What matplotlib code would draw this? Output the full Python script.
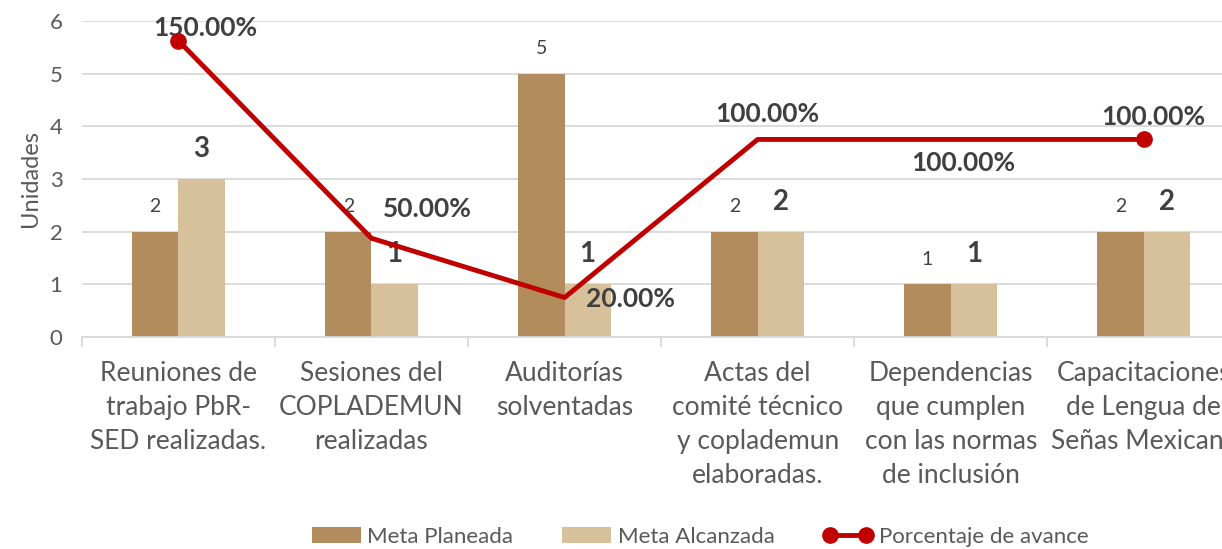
import numpy as np
import matplotlib
matplotlib.use("Agg")
import matplotlib.pyplot as plt
from matplotlib.lines import Line2D
from matplotlib.patches import Patch

plt.rcParams['font.family'] = ['Lato', 'DejaVu Sans']

categories = [
    "Reuniones de\ntrabajo PbR-\nSED realizadas.",
    "Sesiones del\nCOPLADEMUN\nrealizadas",
    "Auditorías\nsolventadas",
    "Actas del\ncomité técnico\ny coplademun\nelaboradas.",
    "Dependencias\nque cumplen\ncon las normas\nde inclusión",
    "Capacitaciones\nde Lengua de\nSeñas Mexicana",
]
meta_planeada = [2, 2, 5, 2, 1, 2]
meta_alcanzada = [3, 1, 1, 2, 1, 2]
porcentaje = [1.5, 0.5, 0.2, 1.0, 1.0, 1.0]
# where to put each percentage label (pixels from the point)
pct_offsets = [(27, 13), (56, 29), (66, -1), (10, 25), (13, -24), (10, 22)]

c_plan = '#B28C5C'
c_alc = '#D6C19B'
c_red = '#C00000'
c_text = '#595959'
c_bold = '#404040'

fig = plt.figure(figsize=(12.22, 5.49), dpi=100)
ax = fig.add_axes([0.067, 0.386, 0.948, 0.576])
x = np.arange(len(categories))
w = 0.24

ax.bar(x - w / 2, meta_planeada, w, color=c_plan, zorder=2)
ax.bar(x + w / 2, meta_alcanzada, w, color=c_alc, zorder=2)

for xi, v in zip(x, meta_planeada):
    ax.annotate(str(v), (xi - w / 2, v), xytext=(0, 25), textcoords='offset pixels',
                ha='center', va='center', fontsize=14, color=c_bold)
for xi, v in zip(x, meta_alcanzada):
    ax.annotate(str(v), (xi + w / 2, v), xytext=(0, 30), textcoords='offset pixels',
                ha='center', va='center', fontsize=20, fontweight='bold', color=c_bold)

ax.set_xlim(-0.5, len(categories) - 0.5)
ax.set_ylim(0, 6)
ax.set_yticks(range(7))
ax.yaxis.grid(True, color='#D9D9D9', linewidth=1.3, zorder=0)
ax.set_axisbelow(True)
for s in ['top', 'right', 'left']:
    ax.spines[s].set_visible(False)
ax.spines['bottom'].set_color('#D9D9D9')
ax.spines['bottom'].set_linewidth(1.3)
ax.set_xticks(x)
ax.set_xticklabels(categories, fontsize=19, color=c_text, linespacing=1.45)
ax.set_xticks(np.arange(len(categories) + 1) - 0.5, minor=True)
ax.tick_params(axis='x', which='major', length=0, pad=17)
ax.tick_params(axis='x', which='minor', length=7, color='#D9D9D9', width=1.3)
ax.tick_params(axis='y', length=0, labelsize=16, labelcolor=c_text, pad=14)
ax.set_ylabel("Unidades", fontsize=17, color=c_text, labelpad=6)

ax2 = ax.twinx()
ax2.set_ylim(0, 1.6)
ax2.axis('off')
ax2.plot(x, porcentaje, color=c_red, linewidth=3.5, zorder=3)
ax2.plot(x[[0, -1]], np.array(porcentaje)[[0, -1]], 'o', color=c_red, ms=11, zorder=4)
for xi, v, off in zip(x, porcentaje, pct_offsets):
    ax2.annotate(f"{v * 100:.2f}%", (xi, v), xytext=off, textcoords='offset pixels',
                 ha='center', va='center', fontsize=19, fontweight='bold', color=c_bold)

h_plan = Patch(facecolor=c_plan, label='Meta Planeada')
h_alc = Patch(facecolor=c_alc, label='Meta Alcanzada')
h_line = Line2D([], [], color=c_red, linewidth=3.5, marker='o', ms=11, label='Porcentaje de avance')
fig.legend(handles=[h_plan, h_alc, h_line], loc='center', bbox_to_anchor=(0.573, 0.022),
           ncol=3, frameon=False, fontsize=16, labelcolor=c_text, numpoints=2,
           handlelength=2.2, handletextpad=0.3, columnspacing=2.2)

fig.savefig("out.png", dpi=100)
